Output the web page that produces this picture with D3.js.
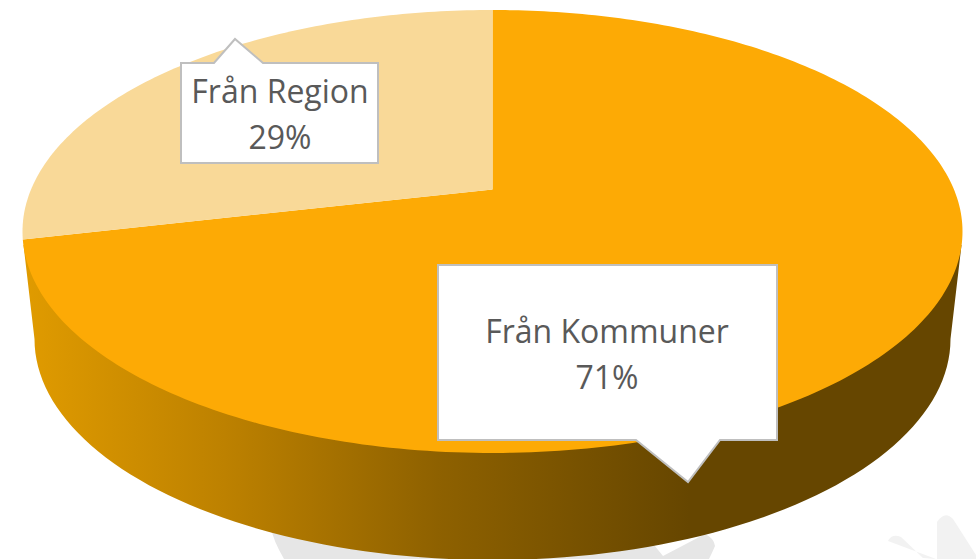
<!DOCTYPE html>
<html><head><meta charset="utf-8">
<script src="https://cdnjs.cloudflare.com/ajax/libs/d3/7.8.5/d3.min.js"></script>
<style>html,body{margin:0;padding:0;background:#fff;overflow:hidden}svg{display:block}</style>
</head><body><svg id="c" width="976" height="559"></svg>
<script>
const categories = ["Från Kommuner", "Från Region"];
const shares = [0.714, 0.286];
const sliceColors = ["#fdaa05", "#f9d998"];

const svg = d3.select("#c");
const top_ = {cx: 492.5, cy: 231.5, rx: 470, ry: 221.5, k: -0.19};
const low = {cx: 492.5, cy: 339, rx: 458, ry: 221};
const line = d3.line();
const defs = svg.append("defs");

// faint background watermark
svg.append("path").attr("fill", "#e6e6e6")
  .attr("d", "M271,528 Q273,540 284,559 L709,559 Q712,553 715,546 Q714,538 705,534 L663,556 L650,540 Z");
svg.append("path").attr("fill", "#f2f2f2")
  .attr("d", "M888,541 Q892,533 901,537 L923,558 L936,559 Z M937,522 Q945,510 953,519 L976,555 L976,559 L937,559 Z");

// side wall gradient
const grad = defs.append("linearGradient").attr("id", "wall").attr("gradientUnits", "userSpaceOnUse")
  .attr("x1", 25).attr("x2", 690).attr("y1", 0).attr("y2", 0);
[[0, "#e09b00"], [0.3, "#bd8100"], [0.62, "#8e6100"], [1, "#664600"]].forEach(([o, c]) =>
  grad.append("stop").attr("offset", o).attr("stop-color", c));

const tAngle = d3.scaleLinear().domain([0, 1]).range([0, Math.PI]);
const lowerArc = d3.range(0, 1.0001, 0.01).map(t => {
  const a = tAngle(t);
  return [low.cx - low.rx * Math.cos(a), low.cy + low.ry * Math.sin(a)];
});
const wallPts = [[top_.cx - top_.rx + 1, 245], ...lowerArc, [top_.cx + top_.rx - 1, 245]];
svg.append("path").attr("fill", "url(#wall)").attr("d", line(wallPts) + "Z");

// perspective projection of the unit pie onto the top ellipse
const s = Math.sqrt(1 - top_.k * top_.k);
function project(angle) {
  const u = Math.sin(angle), v = -Math.cos(angle);
  const d = 1 + top_.k * v;
  return [top_.cx + top_.rx * u * s / d, top_.cy + top_.ry * (v + top_.k) / d];
}
const apex = [top_.cx, top_.cy + top_.ry * top_.k];

const arcs = d3.pie().sort(null).value(d => d)(shares);
svg.selectAll("path.slice").data(arcs).join("path").attr("class", "slice")
  .attr("fill", (d, i) => sliceColors[i])
  .attr("d", d => {
    const n = Math.ceil((d.endAngle - d.startAngle) * 60);
    const pts = d3.range(n + 1).map(i => project(d.startAngle + (d.endAngle - d.startAngle) * i / n));
    return line([apex, ...pts]) + "Z";
  });

// data-label callouts
const callouts = [
  {i: 1, x: 181, y: 63, w: 197, h: 100, tip: [[214, 63], [235, 39], [263, 63]], tx: 280, ty: [103, 149]},
  {i: 0, x: 438, y: 265, w: 339, h: 175, tip: [[720, 440], [688, 482], [636, 440]], tx: 607, ty: [343, 389]}
];
const pct = d3.format(".0%");
callouts.forEach(c => {
  const r = c.x + c.w, b = c.y + c.h;
  const outline = c.i === 1
    ? [[c.x, c.y], ...c.tip, [r, c.y], [r, b], [c.x, b]]
    : [[c.x, c.y], [r, c.y], [r, b], ...c.tip, [c.x, b]];
  svg.append("path").attr("d", line(outline) + "Z")
    .attr("fill", "#fff").attr("stroke", "#bfbfbf").attr("stroke-width", 2);
  [categories[c.i], pct(shares[c.i])].forEach((t, j) => {
    svg.append("text").attr("x", c.tx).attr("y", c.ty[j]).attr("text-anchor", "middle")
      .attr("font-family", "'Open Sans', sans-serif").attr("font-size", 32).attr("fill", "#595959").text(t);
  });
});
</script></body></html>
